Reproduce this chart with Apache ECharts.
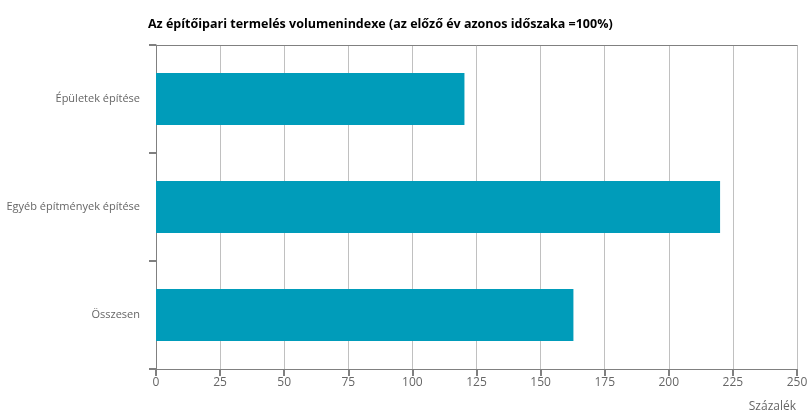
<!DOCTYPE html>
<html>
<head>
<meta charset="utf-8">
<script src="https://cdn.jsdelivr.net/npm/echarts@6/dist/echarts.min.js"></script>
<style>
  html, body { margin: 0; padding: 0; background: #fff; }
  #chart { width: 808px; height: 418px; }
</style>
</head>
<body>
<div id="chart"></div>
<script>
var categories = ['Épületek építése', 'Egyéb építmények építése', 'Összesen'];
var values = [120.3, 220.0, 162.8];
var xTicks = [0, 25, 50, 75, 100, 125, 150, 175, 200, 225, 250];

var chart = echarts.init(document.getElementById('chart'));

chart.setOption({
    animation: false,
    title: [
        {
            text: 'Az építőipari termelés volumenindexe (az előző év azonos időszaka =100%)',
            left: 143,
            top: 13,
            textStyle: {
                fontFamily: 'Open Sans',
                fontSize: 12.5,
                fontWeight: 'bold',
                color: '#000'
            }
        },
        {
            text: 'Százalék',
            right: 7,
            top: 396,
            textStyle: {
                fontFamily: 'Open Sans',
                fontSize: 12,
                fontWeight: 'normal',
                color: '#666'
            }
        }
    ],
    grid: {
        left: 156,
        right: 11,
        top: 45,
        bottom: 49,
        containLabel: false,
        outerBoundsMode: 'none'
    },
    xAxis: [
        {
            type: 'value',
            min: xTicks[0],
            max: xTicks[xTicks.length - 1],
            interval: 25,
            axisLine: { show: true, lineStyle: { color: '#808080', width: 1 } },
            axisTick: { show: true, length: 7, lineStyle: { color: '#808080', width: 2 } },
            axisLabel: {
                margin: 8,
                fontFamily: 'Open Sans',
                fontSize: 12,
                color: '#666'
            },
            splitLine: { show: true, lineStyle: { color: '#c0c0c0', width: 1 } }
        },
        {
            type: 'value',
            position: 'top',
            min: xTicks[0],
            max: xTicks[xTicks.length - 1],
            axisLine: { show: true, lineStyle: { color: '#808080', width: 1 } },
            axisTick: { show: false },
            axisLabel: { show: false },
            splitLine: { show: false }
        }
    ],
    yAxis: {
        type: 'category',
        inverse: true,
        data: categories,
        axisLine: { show: true, lineStyle: { color: '#808080', width: 1 } },
        axisTick: { show: true, length: 7, lineStyle: { color: '#808080', width: 2 } },
        axisLabel: {
            margin: 16,
            fontFamily: 'Open Sans',
            fontSize: 11,
            color: '#666'
        }
    },
    series: [
        {
            type: 'bar',
            data: values,
            barWidth: '48%',
            itemStyle: { color: '#009cba' },
            silent: true
        }
    ]
});
</script>
</body>
</html>
